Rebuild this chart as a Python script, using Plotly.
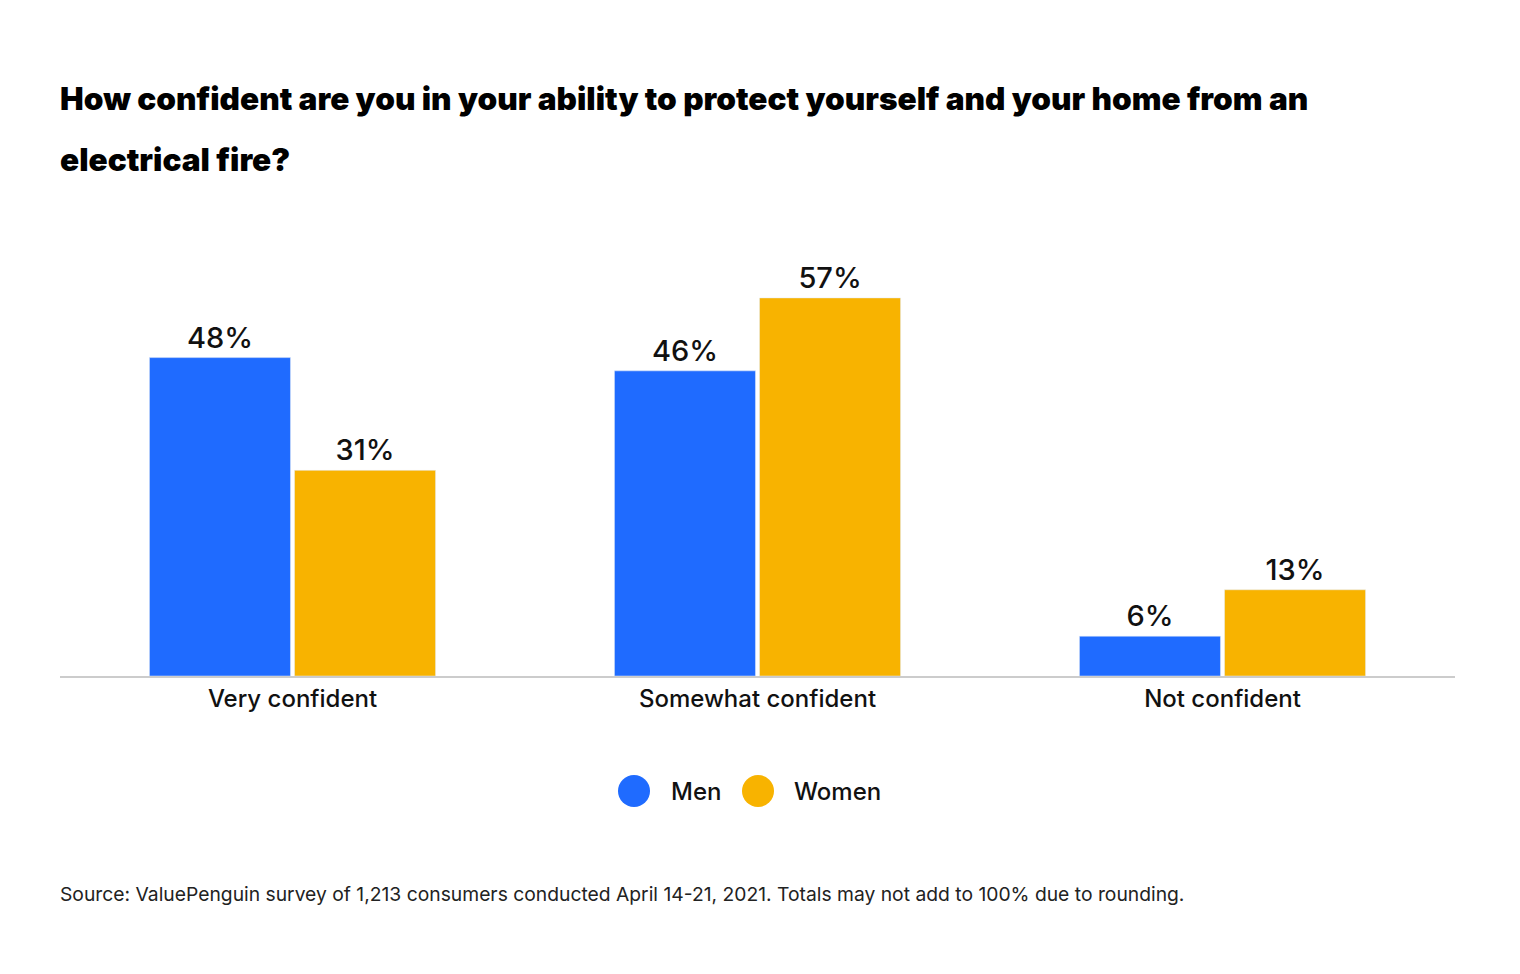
import plotly.graph_objects as go

categories = ["Very confident", "Somewhat confident", "Not confident"]
men = [48, 46, 6]
women = [31, 57, 13]

BLUE = "#1F6BFF"
GOLD = "#F8B300"
FONT = "Inter"

# page shows the figure with an 8px offset, so work in figure coords
W, H = 1504, 958
L, R, T, B = 52, 57, 270, 290
PW, PH = W - L - R, H - T - B


def py(y_page):
    # page pixel y -> paper y
    return 1 - ((y_page - 8) - T) / PH


def px(x_page):
    return ((x_page - 8) - L) / PW


fig = go.Figure()
for name, vals, color in [("Men", men, BLUE), ("Women", women, GOLD)]:
    fig.add_trace(go.Bar(x=categories, y=vals, name=name, marker_color=color,
                         text=[f"{v}%" for v in vals], textposition="outside",
                         cliponaxis=False,
                         textfont=dict(size=29, color="#111111", family=FONT, weight=500)))

fig.update_layout(
    width=W, height=H,
    barmode="group", bargap=0.376, bargroupgap=0.028,
    paper_bgcolor="white", plot_bgcolor="white",
    showlegend=False,
    margin=dict(l=L, r=R, t=T, b=B),
    font=dict(family=FONT, color="#111111"),
    xaxis=dict(showline=True, linecolor="#CCCCCC", linewidth=2, ticks="",
               tickfont=dict(size=24, color="#111111", weight=500), fixedrange=True),
    yaxis=dict(range=[0, 60], visible=False, showgrid=False, fixedrange=True),
)

# title in two lines
for txt, y in [("How confident are you in your ability to protect yourself and your home from an", 98),
               ("electrical fire?", 160)]:
    fig.add_annotation(text=txt, xref="paper", yref="paper", x=px(58), xanchor="left",
                       y=py(y), yanchor="middle", showarrow=False,
                       font=dict(size=31.6, family=FONT, weight=900, color="#000000"))

# manual legend with circles
for name, color, cx, tx in [("Men", BLUE, 634, 669), ("Women", GOLD, 758, 792)]:
    r = 16
    fig.add_shape(type="circle", xref="paper", yref="paper",
                  x0=px(cx - r), x1=px(cx + r),
                  y0=py(791 + r), y1=py(791 - r),
                  fillcolor=color, line_width=0)
    fig.add_annotation(text=name, xref="paper", yref="paper", x=px(tx), xanchor="left",
                       y=py(791), yanchor="middle", showarrow=False,
                       font=dict(size=24, color="#111111", weight=500))

fig.add_annotation(text="Source: ValuePenguin survey of 1,213 consumers conducted April 14-21, 2021. Totals may not add to 100% due to rounding.",
                   xref="paper", yref="paper", x=px(58), xanchor="left",
                   y=py(894), yanchor="middle", showarrow=False,
                   font=dict(size=19.3, color="#222222"))

fig.write_html("out.html")
